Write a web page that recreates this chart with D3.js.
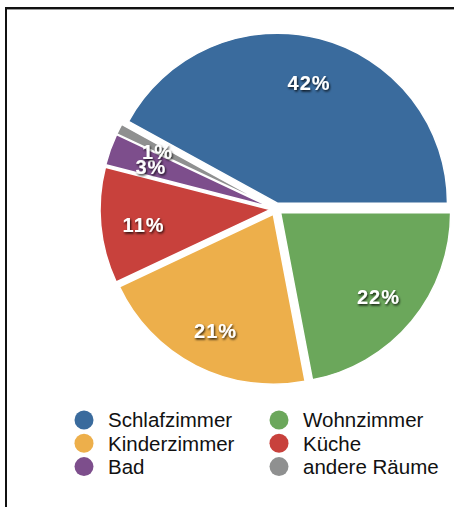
<!DOCTYPE html>
<html><head><meta charset="utf-8">
<script src="https://cdn.jsdelivr.net/npm/d3@7"></script>
<style>html,body{margin:0;padding:0;background:#fff;}svg{display:block;}</style>
</head><body>
<svg id="chart" width="454" height="507"></svg>
<script>
const categories = ["Schlafzimmer", "Wohnzimmer", "Kinderzimmer", "Küche", "Bad", "andere Räume"];
const values = [42, 22, 21, 11, 3, 1];
const labels = ["42%", "22%", "21%", "11%", "3%", "1%"];
const colors = ["#3a6b9d", "#6ba75b", "#edaf4b", "#c8413c", "#7d4e8c", "#8f9090"];
const legendOrder = ["Schlafzimmer", "Wohnzimmer", "Kinderzimmer", "Küche", "Bad", "andere Räume"];

const svg = d3.select("#chart");
const W = 454, H = 507;
const cx = 276, cy = 209, R = 170, explode = 6, labelR = 127;

// frame
svg.append("line").attr("x1", 5).attr("x2", W).attr("y1", 8).attr("y2", 8).attr("stroke", "#111").attr("stroke-width", 2);
svg.append("line").attr("x1", 5).attr("x2", W).attr("y1", 9.5).attr("y2", 9.5).attr("stroke", "#999").attr("stroke-width", 1);
svg.append("line").attr("x1", 6).attr("x2", 6).attr("y1", 7).attr("y2", H).attr("stroke", "#111").attr("stroke-width", 2);

const defs = svg.append("defs");
const f = defs.append("filter").attr("id", "sh").attr("x", "-30%").attr("y", "-30%").attr("width", "160%").attr("height", "160%");
f.append("feDropShadow").attr("dx", 1).attr("dy", 1.5).attr("stdDeviation", 1.2).attr("flood-color", "#000").attr("flood-opacity", 0.85);

const color = d3.scaleOrdinal().domain(categories).range(colors);
const total = d3.sum(values);
const pie = d3.pie().sort(null).value(d => d.v)
  .startAngle(Math.PI / 2 - 2 * Math.PI * values[0] / total)
  .endAngle(Math.PI / 2 - 2 * Math.PI * values[0] / total + 2 * Math.PI);
const data = categories.map((c, i) => ({c, v: values[i], l: labels[i]}));
const arcs = pie(data);
const arc = d3.arc().innerRadius(0).outerRadius(R);
const labelArc = d3.arc().innerRadius(labelR).outerRadius(labelR);

const g = svg.append("g").attr("transform", `translate(${cx},${cy})`);
const off = d => {
  const a = (d.startAngle + d.endAngle) / 2;
  return [explode * Math.sin(a), -explode * Math.cos(a)];
};
g.selectAll("path.slice").data(arcs).join("path")
  .attr("class", "slice")
  .attr("transform", d => `translate(${off(d)})`)
  .attr("d", arc)
  .attr("fill", d => color(d.data.c))
  .attr("stroke", "#fff").attr("stroke-width", 1.5).attr("stroke-linejoin", "round");

g.selectAll("text.lbl").data(arcs).join("text")
  .attr("class", "lbl")
  .attr("transform", d => {
    const [ox, oy] = off(d);
    const [x, y] = labelArc.centroid(d);
    return `translate(${x + ox},${y + oy})`;
  })
  .attr("text-anchor", "middle").attr("dy", "0.5em")
  .attr("font-family", "'Liberation Sans', Arial, sans-serif")
  .attr("font-weight", "bold").attr("font-size", 20)
  .attr("letter-spacing", 1)
  .attr("fill", "#fff").attr("filter", "url(#sh)")
  .text(d => d.data.l);

// legend
const lg = svg.append("g");
const colX = [84, 279], rowY = [420, 443.3, 466.6];
legendOrder.forEach((c, i) => {
  const x = colX[i % 2], y = rowY[Math.floor(i / 2)];
  lg.append("circle").attr("cx", x).attr("cy", y).attr("r", 9.5).attr("fill", color(c));
  lg.append("text").attr("x", x + 24).attr("y", y).attr("dy", "0.36em")
    .attr("font-family", "'Liberation Sans', Arial, sans-serif").attr("font-size", 20.5)
    .attr("fill", "#111").text(c);
});
</script>
</body></html>
